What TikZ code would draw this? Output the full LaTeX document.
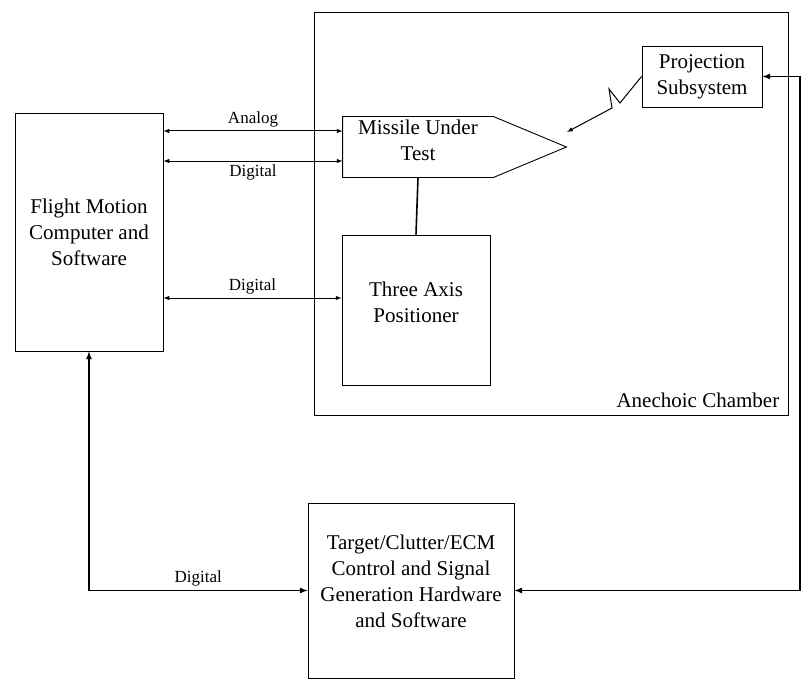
\documentclass[tikz,border=0pt]{standalone}
\usepackage{fontspec}
\setmainfont{Liberation Serif}

\tikzset{
  blk/.style={draw,line width=0.9pt,inner sep=0pt,align=center,
    font=\fontsize{21}{26}\selectfont},
  txt/.style={align=center,font=\fontsize{21}{26}\selectfont},
  sig/.style={latex-latex,line width=1pt},
  bus/.style={latex-latex,line width=1.6pt},
  tag/.style={font=\fontsize{17}{20}\selectfont},
}

\begin{document}
\begin{tikzpicture}[x=1pt,y=-1pt]
    \useasboundingbox (0,0) rectangle (808,690);

    \node[blk,minimum width=148,minimum height=238] (fmc) at (89,232)
        {Flight Motion\\Computer and\\Software};

    \node[blk,minimum width=474,minimum height=403] (room) at (551,213.5) {};
    \node[txt,inner sep=0pt,anchor=base east] (roomlbl)
        at ([xshift=-9pt,yshift=8pt]room.south east) {Anechoic Chamber};

    \node[blk,minimum width=148,minimum height=150,
        label={[txt,yshift=8pt]center:{Three Axis\\Positioner}}] (tap) at (416,310) {};
    \node[blk,minimum width=120,minimum height=61] (proj) at (702,76.5)
        {Projection\\Subsystem};
    \node[blk,minimum width=206,minimum height=175,
        label={[txt,yshift=9pt]center:{Target/Clutter/ECM\\Control and Signal\\Generation Hardware\\and Software}}]
        (tgt) at (411,590.5) {};

    % missile body with a pointed nose
    \node[blk,draw=none,minimum width=150,minimum height=60,
        label={[txt,yshift=7pt]center:{Missile Under\\Test}}] (mut) at (418,147) {};
    \coordinate (nose) at ([xshift=73pt]mut.east);
    \draw[line width=0.9pt]
        (mut.north west) -- (mut.north east) -- (nose)
        -- (mut.south east) -- (mut.south west) -- cycle;

    \coordinate (mutA) at ([yshift=16pt]mut.west);
    \coordinate (mutD) at ([yshift=-14pt]mut.west);
    \coordinate (tapD) at ([yshift=12pt]tap.west);

    \draw[sig] (fmc.east|-mutA) -- (mutA) node[tag,midway,above] {Analog};
    \draw[sig] (fmc.east|-mutD) -- (mutD) node[tag,midway,below] {Digital};
    \draw[sig] (fmc.east|-tapD) -- (tapD) node[tag,midway,above] {Digital};

    \draw[line width=1.6pt] (mut.south) -- (tap.north);

    \draw[bus] (fmc.south) |- (tgt.west) node[tag,pos=0.75,above] {Digital};

    \coordinate (loop) at (800,76.5);
    \draw[bus] (tgt.east) -| (loop) -- (proj.east);

    % beam from the projector
    \coordinate (beam) at (567,132);
    \draw[-latex,line width=1pt]
        (proj.west) -- (620,103) -- (609,89) -- (612,108) -- (beam);
  \end{tikzpicture}
\end{document}
